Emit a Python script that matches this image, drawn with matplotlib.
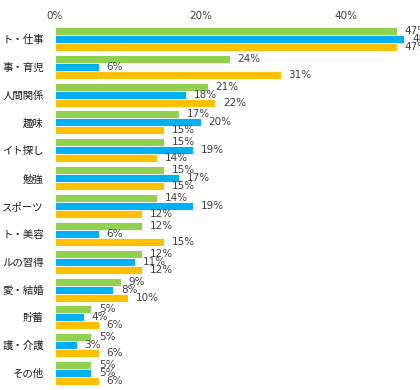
import numpy as np
import matplotlib
matplotlib.use("Agg")
import matplotlib.pyplot as plt

# ── Data ──────────────────────────────────────────────────────
categories = ["ト・仕事", "事・育児", "人間関係", "趣味", "イト探し", "勉強", "スポーツ",
              "ト・美容", "ルの習得", "愛・結婚", "貯蓄", "護・介護", "その他"]
green_vals = [47, 24, 21, 17, 15, 15, 14, 12, 12, 9, 5, 5, 5]
blue_vals = [48, 6, 18, 20, 19, 17, 19, 6, 11, 8, 4, 3, 5]
orange_vals = [47, 31, 22, 15, 14, 15, 12, 15, 12, 10, 6, 6, 6]
x_ticks = [0, 20, 40]

COLORS = ["#92d050", "#00b0f0", "#ffc000"]

# ── Plot ──────────────────────────────────────────────────────
fig = plt.figure(figsize=(4.2, 3.9), dpi=100)
ax = fig.add_axes([55 / 420, 3 / 390, 364 / 420, 362 / 390])

y = np.arange(len(categories))
h = 0.288
for k, (vals, col) in enumerate(zip([green_vals, blue_vals, orange_vals], COLORS)):
    pos = y + (k - 1) * h
    ax.barh(pos, vals, height=h, color=col, edgecolor="white", linewidth=0.6)
    for p, v in zip(pos, vals):
        ax.annotate(f"{v}%", (v, p), xytext=(5.5, 0), textcoords="offset points",
                    va="center", ha="left", fontsize=7.5, color="#404040")

ax.set_xlim(0, 50)
ax.set_ylim(len(categories) - 0.5, -0.5)
ax.set_yticks(y)
ax.set_yticklabels(categories, fontsize=7.5, family=["Noto Sans CJK JP", "DejaVu Sans"],
                   color="#1a1a1a")
ax.set_xticks(x_ticks)
ax.set_xticklabels([f"{t}%" for t in x_ticks], fontsize=7.5, color="#404040")
ax.xaxis.tick_top()
ax.tick_params(axis="both", length=0)
ax.tick_params(axis="y", pad=8)
ax.tick_params(axis="x", pad=3)
for s in ax.spines.values():
    s.set_visible(False)

plt.savefig("out.png", dpi=100)
plt.close()
